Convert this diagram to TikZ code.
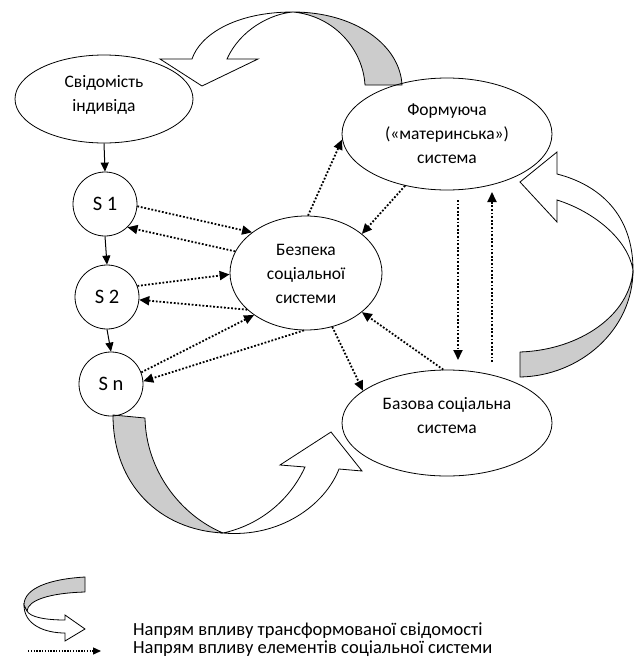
\documentclass[tikz,border=0pt]{standalone}
\usepackage{fontspec}
\setmainfont{Carlito}
\usetikzlibrary{shapes.geometric,arrows.meta}
\definecolor{bandgray}{RGB}{204,204,204}
\tikzset{
  ell/.style={draw, ellipse, line width=0.8pt, inner sep=0pt},
  circ/.style={draw, circle, line width=0.8pt, inner sep=0pt, minimum size=64pt, font=\fontsize{20.5}{22}\selectfont},
  lbl/.style={align=center, font=\fontsize{17.5}{24}\selectfont, inner sep=0pt},
  legtxt/.style={anchor=west, font=\fontsize{18.5}{20}\selectfont, inner sep=0pt},
  solidarr/.style={line width=1pt, -{Triangle[length=9pt,width=8pt]}},
  dotarr/.style={line width=1.8pt, dash pattern=on 1.8pt off 1.8pt, -{Triangle[length=10pt,width=9pt]}},
  band/.style={draw, line width=0.8pt, fill=bandgray, line join=round},
  bandw/.style={draw, line width=0.8pt, fill=white, line join=miter}
}
\begin{document}
\begin{tikzpicture}[x=1pt,y=-1pt]
\useasboundingbox[fill=white] (0,0) rectangle (635,659);

% curved block arrows (white parts first)
\path[bandw] (293,12) .. controls (235,12) and (200,35) .. (192,59) -- (160,59) -- (202,86) -- (258,59) -- (227,59) .. controls (240,30) and (270,14) .. (293,12) -- cycle;
\path[band] (402,85) -- (365,85) .. controls (363,50) and (335,16) .. (293,12) .. controls (355,12) and (400,45) .. (402,85) -- cycle;

\path[bandw] (633,270) .. controls (633,215) and (600,185) .. (557,174) -- (557,152) -- (520,182) -- (557,222) -- (557,200) .. controls (595,212) and (628,240) .. (633,270) -- cycle;
\path[band] (520,352) -- (520,377) .. controls (580,376) and (633,330) .. (633,270) .. controls (630,315) and (580,350) .. (520,352) -- cycle;

\path[bandw] (223,533) .. controls (280,538) and (325,505) .. (339,469) -- (362,471) -- (331,432) -- (280,465) -- (305,467) .. controls (290,500) and (260,525) .. (223,533) -- cycle;
\path[band] (113,415) -- (145,418) .. controls (146,470) and (180,515) .. (223,533) .. controls (160,530) and (113,485) .. (113,415) -- cycle;

% ellipses
\node[ell, minimum width=178pt, minimum height=88pt] (svid) at (104,99) {};
\node[lbl] (svidt) at (104,95) {Свідомість\\індивіда};
\node[ell, minimum width=210pt, minimum height=112pt] (form) at (447,134) {};
\node[lbl] (formt) at (447,134) {Формуюча\\(«материнська»)\\система};
\node[ell, minimum width=152pt, minimum height=114pt, fill=white] (bez) at (306,273) {};
\node[lbl] (bezt) at (306,274) {Безпека\\соціальної\\системи};
\node[ell, minimum width=210pt, minimum height=106pt] (baz) at (447,423) {};
\node[lbl] (bazt) at (447,416) {Базова соціальна\\система};

% circles
\node[circ] (s1) at (105,204) {S 1};
\node[circ] (s2) at (107,297) {S 2};
\node[circ] (sn) at (111,384) {S n};

% solid arrows
\draw[solidarr] (svid.south) -- (s1.north);
\draw[solidarr] (s1.south) -- (s2.north);
\draw[solidarr] (s2.south) -- (sn.north);

% dotted arrows
\draw[dotarr] (s1.356) -- (bez.143);
\draw[dotarr] (bez.163) -- (s1.314);
\draw[dotarr] (s2.20) -- (bez.181);
\draw[dotarr] (bez.212) -- (s2.355);
\draw[dotarr] (sn.21) -- (bez.219);
\draw[dotarr] (bez.268) -- (sn.5);
\draw[dotarr] (bez.88) -- (form.183);
\draw[dotarr] (form.231) -- (bez.35);
\draw[dotarr] (bez.296) -- (baz.159);
\draw[dotarr] (baz.94) -- (bez.325);
\coordinate (fdown1) at (458,200);
\coordinate (fdown2) at (458,360);
\coordinate (bup1) at (492,362);
\coordinate (bup2) at (492,192);
\draw[dotarr] (fdown1) -- (fdown2);
\draw[dotarr] (bup1) -- (bup2);

% legend
\path[bandw] (24,605) .. controls (24,625) and (45,633) .. (65,633) -- (65,641) -- (85,629) -- (65,615) -- (65,620) .. controls (45,620) and (30,617) .. (27,611) -- cycle;
\path[band] (85,577) -- (85,592) .. controls (50,593) and (28,600) .. (27,611) -- (24,605) .. controls (24,588) and (50,579) .. (85,577) -- cycle;
\node[legtxt] (leg1) at (133,631) {Напрям впливу трансформованої свідомості};
\coordinate (la) at (28,651);
\coordinate (lb) at (101,651);
\draw[dotarr, line width=1.4pt, dash pattern=on 1.4pt off 1.4pt, -{Triangle[length=8pt,width=7pt]}] (la) -- (lb);
\node[legtxt] (leg2) at (133,649) {Напрям впливу елементів соціальної системи};
\end{tikzpicture}
\end{document}
